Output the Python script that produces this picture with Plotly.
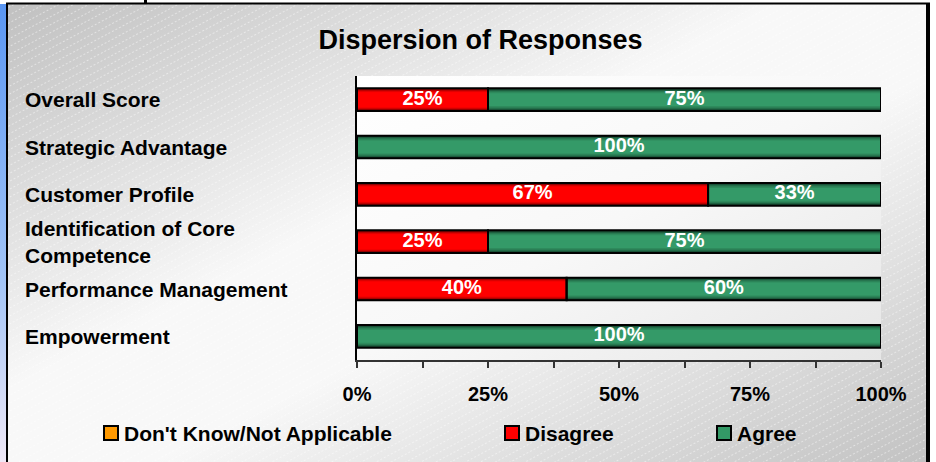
import base64
import plotly.graph_objects as go

# ---------------- data ----------------
categories = [
    "Overall Score",
    "Strategic Advantage",
    "Customer Profile",
    "Identification of Core<br>Competence",
    "Performance Management",
    "Empowerment",
]
dont_know = [0, 0, 0, 0, 0, 0]
disagree = [25, 0, 67, 25, 40, 0]
agree = [75, 100, 33, 75, 60, 100]
series_names = ["Don't Know/Not Applicable", "Disagree", "Agree"]
tick_vals = [0, 12.5, 25, 37.5, 50, 62.5, 75, 87.5, 100]
tick_text = ["0%", "", "25%", "", "50%", "", "75%", "", "100%"]

# ---------------- layout constants ----------------
W, H = 936, 462
ML, MR, MT, MB = 357, 55, 76, 102
PW, PH = W - ML - MR, H - MT - MB
FONT = "Liberation Sans, Arial, sans-serif"
BAR_W = 0.48

# gradient layers (outer -> inner) for each series
layers = {
    "Don't Know/Not Applicable": [(0.48, "#a86400"), (0.42, "#e08600"), (0.36, "#ff9900")],
    "Disagree": [(0.48, "#6e0000"), (0.43, "#a00000"), (0.39, "#d00000"), (0.35, "#f20000"), (0.31, "#ff0000")],
    "Agree": [(0.48, "#123d28"), (0.43, "#1d5a3d"), (0.38, "#26744e"), (0.33, "#2e8a5c"), (0.27, "#349a68")],
}
main_colors = {"Don't Know/Not Applicable": "#ff9900", "Disagree": "#ff0000", "Agree": "#339966"}

values = {"Don't Know/Not Applicable": dont_know, "Disagree": disagree, "Agree": agree}
bases = {}
running = [0] * len(categories)
for name in series_names:
    bases[name] = list(running)
    running = [r + v for r, v in zip(running, values[name])]

fig = go.Figure()

# gradient layers
for name in series_names:
    if sum(values[name]) == 0:
        continue
    for wd, col in layers[name]:
        fig.add_trace(go.Bar(
            orientation="h", y=categories, x=values[name], base=bases[name], width=wd,
            name=name, marker=dict(color=col, line=dict(width=0)), showlegend=False,
            hoverinfo="skip",
        ))

# outlines on top
for name in series_names:
    fig.add_trace(go.Bar(
        orientation="h", y=categories, x=values[name], base=bases[name], width=BAR_W,
        name=name, marker=dict(color="rgba(0,0,0,0)", line=dict(color="black", width=2)),
        showlegend=False, hoverinfo="skip",
    ))

# value labels
lx, ly, lt = [], [], []
for name in series_names:
    for cat, b, v in zip(categories, bases[name], values[name]):
        if v > 0:
            lx.append(b + v / 2)
            ly.append(cat)
            lt.append(f"{v}%")
fig.add_trace(go.Scatter(
    x=lx, y=ly, text=lt, mode="text", showlegend=False, hoverinfo="skip",
    textfont=dict(family=FONT, size=20, color="white", weight="bold"),
))

# category labels (left aligned)
for cat in categories:
    fig.add_annotation(
        x=(23 - ML) / PW, xref="paper", y=cat, yref="y", text=cat, showarrow=False,
        xanchor="left", yanchor="middle", align="left",
        font=dict(family=FONT, size=21, color="black", weight="bold"),
    )

# legend (drawn manually so spacing matches)
legend_pos = {"Don't Know/Not Applicable": 104, "Disagree": 505, "Agree": 717}
LEG_Y = 433
for name in series_names:
    px = legend_pos[name]
    fig.add_shape(
        type="rect", xref="paper", yref="paper",
        x0=(px - ML) / PW, x1=(px + 14 - ML) / PW,
        y0=(H - MB - (LEG_Y + 7)) / PH, y1=(H - MB - (LEG_Y - 7)) / PH,
        fillcolor=main_colors[name], line=dict(color="black", width=2),
    )
    fig.add_annotation(
        x=(px + 18 - ML) / PW, xref="paper", y=(H - MB - LEG_Y) / PH, yref="paper",
        text=name, showarrow=False, xanchor="left", yanchor="middle",
        font=dict(family=FONT, size=21, color="black", weight="bold"),
    )

# backgrounds as svg images
paper_svg = f'''<svg xmlns="http://www.w3.org/2000/svg" width="{W}" height="{H}" viewBox="0 0 {W} {H}">
<defs>
<linearGradient id="bg" x1="0" y1="0" x2="1" y2="1">
<stop offset="0" stop-color="#c0c0c0"/><stop offset="0.42" stop-color="#f8f8f8"/>
<stop offset="0.58" stop-color="#f8f8f8"/><stop offset="1" stop-color="#c2c2c2"/>
</linearGradient>
<linearGradient id="bl" x1="0" y1="0" x2="0" y2="1">
<stop offset="0" stop-color="#5a96f2"/><stop offset="0.6" stop-color="#a2c4f6"/><stop offset="1" stop-color="#efe8f6"/>
</linearGradient>
<pattern id="st" width="8" height="7" patternUnits="userSpaceOnUse" patternTransform="rotate(-28)">
<line x1="0" y1="3.5" x2="8" y2="3.5" stroke="#ffffff" stroke-width="1" stroke-dasharray="2 2" opacity="0.45"/>
</pattern>
</defs>
<rect width="{W}" height="{H}" fill="#ffffff"/>
<rect x="0" y="4" width="6" height="{H-4}" fill="url(#bl)"/>
<rect x="7" y="4" width="920" height="{H-4}" fill="url(#bg)"/>
<rect x="7" y="4" width="920" height="{H-4}" fill="url(#st)"/>
<line x1="6" y1="3.5" x2="930" y2="3.5" stroke="#000" stroke-width="2"/>
<line x1="7" y1="3" x2="7" y2="{H}" stroke="#000" stroke-width="2"/>
<line x1="928" y1="3" x2="928" y2="{H}" stroke="#000" stroke-width="4"/>
<line x1="145.5" y1="0" x2="145.5" y2="4" stroke="#000" stroke-width="3"/>
</svg>'''
plot_svg = f'''<svg xmlns="http://www.w3.org/2000/svg" width="{PW}" height="{PH}" viewBox="0 0 {PW} {PH}">
<defs><linearGradient id="pg" x1="0" y1="0" x2="1" y2="1">
<stop offset="0" stop-color="#ffffff"/><stop offset="0.5" stop-color="#f8f8f8"/><stop offset="1" stop-color="#e6e6e6"/>
</linearGradient></defs>
<rect width="{PW}" height="{PH}" fill="url(#pg)"/>
</svg>'''


def uri(s):
    return "data:image/svg+xml;base64," + base64.b64encode(s.encode()).decode()


fig.add_layout_image(dict(
    source=uri(paper_svg), xref="paper", yref="paper", x=-ML / PW, y=1 + MT / PH,
    sizex=W / PW, sizey=H / PH, sizing="stretch", xanchor="left", yanchor="top", layer="below",
))
fig.add_layout_image(dict(
    source=uri(plot_svg), xref="paper", yref="paper", x=0, y=1,
    sizex=1, sizey=1, sizing="stretch", xanchor="left", yanchor="top", layer="below",
))

fig.update_layout(
    width=W, height=H,
    margin=dict(l=ML, r=MR, t=MT, b=MB, pad=0),
    paper_bgcolor="white", plot_bgcolor="rgba(0,0,0,0)",
    barmode="overlay", hovermode=False, showlegend=False,
    title=dict(text="Dispersion of Responses", x=480.5 / W, y=1 - 40 / H, xref="container",
               yref="container", xanchor="center", yanchor="middle",
               font=dict(family=FONT, size=27, color="black", weight="bold")),
    xaxis=dict(range=[0, 100], tickvals=tick_vals, ticktext=tick_text, ticks="outside",
               ticklen=6, tickwidth=1.5, tickcolor="#333333", showline=True, linecolor="#333333",
               linewidth=2, showgrid=False, zeroline=False, ticklabelstandoff=9, automargin=False,
               tickfont=dict(family=FONT, size=20, color="black", weight="bold")),
    yaxis=dict(autorange="reversed", showticklabels=False, ticks="", showline=True,
               linecolor="black", linewidth=2, showgrid=False, zeroline=False, automargin=False),
)

fig.write_html("out.html")
